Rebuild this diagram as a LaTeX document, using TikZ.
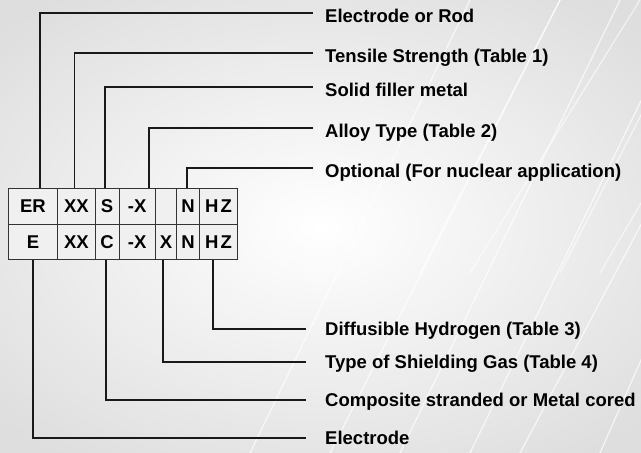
\documentclass[tikz,border=0pt]{standalone}
\usepackage{fontspec}
\setmainfont{Liberation Sans}
\usetikzlibrary{positioning,calc}

\begin{document}
\begin{tikzpicture}[x=1pt, y=1pt,
    cell/.style={rectangle, draw=black!80, line width=0.9pt, fill=white!94!black, outer sep=0pt, inner sep=0pt,
      minimum height=36.5pt, font=\fontsize{18.5}{20}\selectfont\bfseries},
    lab/.style={anchor=west, inner ysep=0pt, text depth=0pt, font=\fontsize{18.5}{20}\selectfont\bfseries},
    toplab/.style={lab, inner xsep=12pt, text height=19.2pt},
    botlab/.style={lab, inner xsep=19pt, text height=13.2pt},
    lead/.style={draw=black!90, line width=1.7pt}
  ]
    % background
    \useasboundingbox (0,0) rectangle (641,453);
    \shade[inner color=white, outer color=black!13] (-120,-60) rectangle (761,513);
    \foreach \a/\b in {330/560, 400/620, 470/690, 520/760, 600/800, 250/470}
      \draw[white, opacity=0.7, line width=1.2pt] (\a,0) -- (\b,453);
    \foreach \a/\b in {560/420, 640/470, 700/560, 760/600}
      \draw[white, opacity=0.6, line width=1.2pt] (\a,453) -- (\b,180);

    % code table, upper row
    \node[cell, minimum width=49.4pt, anchor=north west] (er) at (8.3,265) {ER};
    \node[cell, minimum width=37.3pt, right=0pt of er] (xx) {XX};
    \node[cell, minimum width=24pt, right=0pt of xx] (s) {S};
    \node[cell, minimum width=36.3pt, right=0pt of s] (ax) {-X};
    \node[cell, minimum width=21.4pt, right=0pt of ax] (blank) {};
    \node[cell, minimum width=22.6pt, right=0pt of blank] (n) {N};
    \node[cell, minimum width=38.4pt, right=0pt of n] (hz) {H\kern2pt Z};

    % lower row
    \node[cell, minimum width=49.4pt, minimum height=35.3pt, below=0pt of er] (e) {E};
    \node[cell, minimum width=37.3pt, minimum height=35.3pt, below=0pt of xx] (xxb) {XX};
    \node[cell, minimum width=24pt, minimum height=35.3pt, below=0pt of s] (c) {C};
    \node[cell, minimum width=36.3pt, minimum height=35.3pt, below=0pt of ax] (axb) {-X};
    \node[cell, minimum width=21.4pt, minimum height=35.3pt, below=0pt of blank] (x) {X};
    \node[cell, minimum width=22.6pt, minimum height=35.3pt, below=0pt of n] (nb) {N};
    \node[cell, minimum width=38.4pt, minimum height=35.3pt, below=0pt of hz] (hzb) {H\kern2pt Z};

    % labels
    \node[toplab] (rod) at (313,440.3) {Electrode or Rod};
    \node[toplab] (tensile) at (313,400.3) {Tensile Strength (Table 1)};
    \node[toplab] (solid) at (313,365.7) {Solid filler metal};
    \node[toplab] (alloy) at (313,325.3) {Alloy Type (Table 2)};
    \node[toplab] (optional) at (313,285.3) {Optional (For nuclear application)};

    \node[botlab] (hydrogen) at (306,124) {Diffusible Hydrogen (Table 3)};
    \node[botlab] (gas) at (306,90.7) {Type of Shielding Gas (Table 4)};
    \node[botlab] (cored) at (306,53) {Composite stranded or Metal cored};
    \node[botlab] (electrode) at (306,14.7) {Electrode};

    \draw[lead] ([xshift=7pt]er.north) |- (rod.west);
    \draw[lead] ([xshift=-2pt]xx.north) |- (tensile.west);
    \draw[lead] ([xshift=-2pt]s.north) |- (solid.west);
    \draw[lead] ([xshift=11.5pt]ax.north) |- (alloy.west);
    \draw[lead] ([xshift=-1pt]n.north) |- (optional.west);

    \draw[lead] ([xshift=-5.5pt]hzb.south) |- (hydrogen.west);
    \draw[lead] ([xshift=-3pt]x.south) |- (gas.west);
    \draw[lead] ([xshift=-1pt]c.south) |- (cored.west);
    \draw[lead] (e.south) |- (electrode.west);
  \end{tikzpicture}
\end{document}
